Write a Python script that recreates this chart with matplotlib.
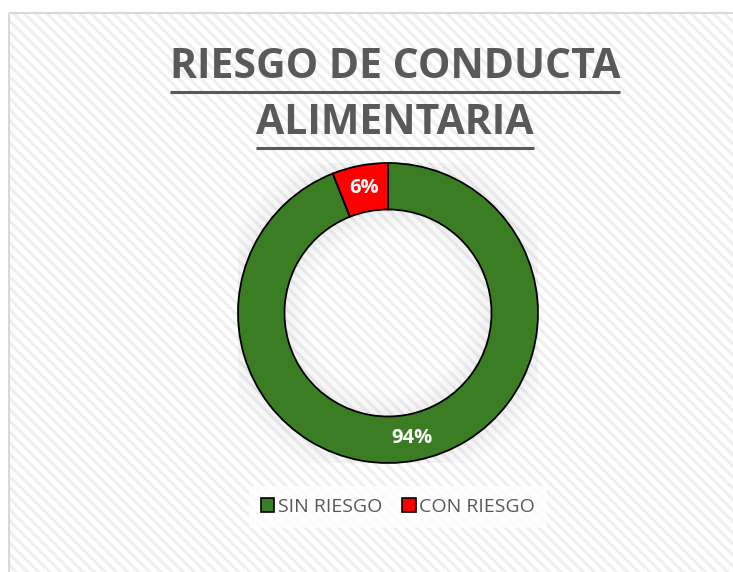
import numpy as np
import matplotlib
matplotlib.use('Agg')
import matplotlib.pyplot as plt
import matplotlib.patches as mpatches

# ---------------------------------------------------------------------------
# Data
# ---------------------------------------------------------------------------
labels = ['SIN RIESGO', 'CON RIESGO']
shares = [94, 6]
colors = ['#3a7d22', '#ff0000']
title_lines = ['RIESGO DE CONDUCTA', 'ALIMENTARIA']

W, H = 733, 572
plt.rcParams['font.family'] = ['Open Sans', 'DejaVu Sans']
plt.rcParams['hatch.linewidth'] = 2.2

fig = plt.figure(figsize=(W / 100, H / 100), dpi=100)
fig.patch.set_facecolor('white')

# ---------------------------------------------------------------------------
# Background: hatched chart area with thin border
# ---------------------------------------------------------------------------
bg = fig.add_axes([0, 0, 1, 1])
bg.set_xlim(0, W)
bg.set_ylim(H, 0)
bg.axis('off')
bg.add_patch(mpatches.Rectangle((9, 13), W, H, facecolor='white',
                                edgecolor='#efefef', hatch='\\\\\\', lw=0))
bg.add_patch(mpatches.Rectangle((9, 13), W, H, facecolor='none',
                                edgecolor='#d9d9d9', lw=1.5))

# ---------------------------------------------------------------------------
# Title (bold, underlined)
# ---------------------------------------------------------------------------
renderer = fig.canvas.get_renderer()
for txt, yc in zip(title_lines, [68, 124]):
    t = bg.text(395, yc, txt, ha='center', va='center', fontsize=29.5,
                fontweight='bold', color='#595959')
    bb = t.get_window_extent(renderer=renderer)
    x0, x1 = bb.x0, bb.x1
    y_line = H - bb.y0 + 3
    bg.plot([x0, x1], [y_line, y_line], color='#595959', lw=2.2,
            solid_capstyle='butt')

# ---------------------------------------------------------------------------
# Donut
# ---------------------------------------------------------------------------
cx, cy, r = 388, 313, 150
ax = fig.add_axes([(cx - r) / W, (H - cy - r) / H, 2 * r / W, 2 * r / H])
ax.axis('off')

# soft glow around the ring
n = 14
for i in range(n):
    a = 0.05 * (1 - i / n)
    ax.add_patch(mpatches.Wedge((0, 0), 1.0 + 0.011 * (i + 1), 0, 360,
                                width=0.011, facecolor='black', alpha=a,
                                lw=0))
    ax.add_patch(mpatches.Wedge((0, 0), 0.69 - 0.011 * i, 0, 360,
                                width=0.011, facecolor='black', alpha=a,
                                lw=0))

wedges, texts, autotexts = ax.pie(
    shares, colors=colors, startangle=90, counterclock=False, radius=1,
    autopct='%1.0f%%', pctdistance=0.845,
    wedgeprops=dict(width=0.31, edgecolor='black', linewidth=1.3),
    textprops=dict(color='white', fontweight='bold', fontsize=14.5))
ax.set_xlim(-1, 1)
ax.set_ylim(-1, 1)
ax.set_aspect('equal')

# ---------------------------------------------------------------------------
# Legend
# ---------------------------------------------------------------------------
handles = [mpatches.Patch(facecolor=c, edgecolor='black', lw=1.2, label=l)
           for c, l in zip(colors, labels)]
leg = fig.legend(handles=handles, loc='center', ncol=2,
                 bbox_to_anchor=(398 / W, 1 - 507 / H), frameon=True,
                 facecolor='white', edgecolor='none', framealpha=0.85,
                 fontsize=14, handlelength=0.7, handleheight=0.7,
                 handletextpad=0.2, columnspacing=1.0, borderpad=0.6,
                 fancybox=False)
for t in leg.get_texts():
    t.set_color('#595959')

fig.savefig('out.png', dpi=100, facecolor='white')
